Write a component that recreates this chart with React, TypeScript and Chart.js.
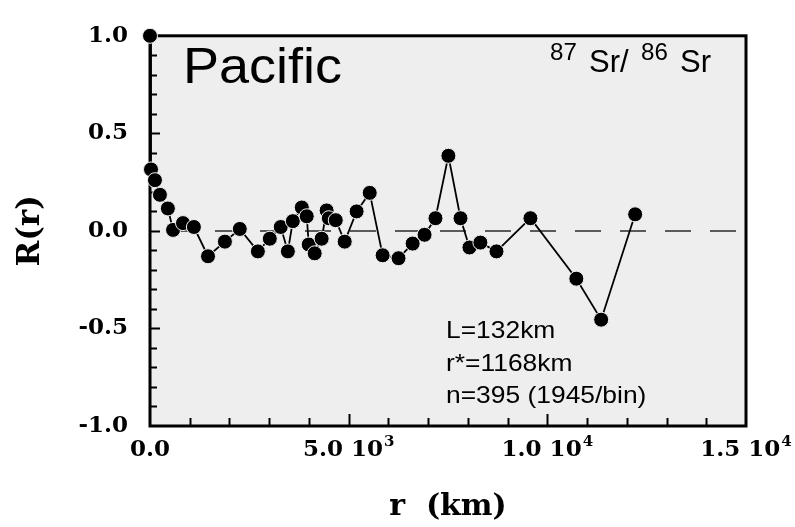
import React, { useEffect, useRef } from "react";
import { Chart, registerables } from "chart.js";

Chart.register(...registerables);

// Distance r (km) of each bin
const distanceKm = [
  0, 25, 125, 250, 450, 580, 830, 1105, 1460, 1885,
  2260, 2715, 3015, 3290, 3470, 3595, 3820, 3945, 3995, 4145,
  4320, 4445, 4500, 4675, 4900, 5200, 5530, 5855, 6255, 6610,
  6910, 7185, 7510, 7815, 8040, 8315, 8720, 9575, 10730, 11355,
  12210,
];
// Correlation R(r)
const correlation = [
  1.0, 0.315, 0.26, 0.185, 0.115, 0.005, 0.04, 0.02, -0.13, -0.055,
  0.01, -0.105, -0.04, 0.02, -0.105, 0.05, 0.12, 0.075, -0.07, -0.115,
  -0.04, 0.105, 0.065, 0.055, -0.055, 0.1, 0.195, -0.125, -0.14, -0.065,
  -0.02, 0.065, 0.385, 0.065, -0.085, -0.06, -0.105, 0.065, -0.245, -0.455,
  0.085,
];

const xTickValues = [0, 5000, 10000, 15000];
const xTickMantissa = ["0.0", "5.0 10", "1.0 10", "1.5 10"];
const xTickExponent = ["", "3", "4", "4"];
const yTickValues = [-1, -0.5, 0, 0.5, 1];
const yTickLabels = ["-1.0", "-0.5", "0.0", "0.5", "1.0"];

const regionLabel = "Pacific";
const isotopeParts = ["87", "Sr/", "86", "Sr"];
const statLines = ["L=132km", "r*=1168km", "n=395 (1945/bin)"];

const xTitle = "r  (km)";
const yTitle = "R(r)";

const SERIF_BOLD = "bold 23px 'DejaVu Serif'";
const SERIF_BOLD_SUP = "bold 15px 'DejaVu Serif'";

function drawScaledText(ctx: CanvasRenderingContext2D, text: string, x: number, y: number, font: string, hscale: number) {
  ctx.save();
  ctx.font = font;
  ctx.translate(x, y);
  ctx.scale(hscale, 1);
  ctx.textAlign = "left";
  ctx.textBaseline = "alphabetic";
  ctx.fillStyle = "#000";
  ctx.fillText(text, 0, 0);
  ctx.restore();
}

const framePlugin = {
  id: "frame",
  beforeDraw(chart: any) {
    const { ctx, chartArea: a } = chart;
    ctx.save();
    ctx.fillStyle = "#eeeeee";
    ctx.fillRect(a.left, a.top, a.right - a.left, a.bottom - a.top);
    ctx.restore();
  },
  beforeDatasetsDraw(chart: any) {
    const { ctx, chartArea: a, scales } = chart;
    const xs = scales.x;
    const ys = scales.y;
    ctx.save();
    // dashed zero line
    const y0 = ys.getPixelForValue(0);
    ctx.strokeStyle = "#5a5a5a";
    ctx.lineWidth = 2;
    ctx.setLineDash([26, 19]);
    ctx.lineDashOffset = -20;
    ctx.beginPath();
    ctx.moveTo(a.left, y0);
    ctx.lineTo(a.right - 6, y0);
    ctx.stroke();
    ctx.setLineDash([]);

    // frame
    ctx.strokeStyle = "#000";
    ctx.lineWidth = 3;
    ctx.strokeRect(a.left, a.top, a.right - a.left, a.bottom - a.top);

    // tick marks
    ctx.lineWidth = 2;
    ctx.beginPath();
    for (let v = 1000; v < 15000; v += 1000) {
      const px = Math.round(xs.getPixelForValue(v)) + 0.5;
      const len = v % 5000 === 0 ? 12 : 8;
      ctx.moveTo(px, a.bottom);
      ctx.lineTo(px, a.bottom - len);
    }
    for (let i = -9; i <= 9; i++) {
      const v = i / 10;
      const py = Math.round(ys.getPixelForValue(v)) + 0.5;
      const len = i % 5 === 0 ? 10 : 7;
      ctx.moveTo(a.left, py);
      ctx.lineTo(a.left + len, py);
    }
    ctx.stroke();

    // x tick labels with superscript exponent
    ctx.fillStyle = "#000";
    ctx.textBaseline = "alphabetic";
    ctx.textAlign = "left";
    const baseY = a.bottom + 30;
    xTickValues.forEach((v, i) => {
      ctx.font = SERIF_BOLD;
      const mant = xTickMantissa[i];
      const wM = ctx.measureText(mant).width;
      ctx.font = SERIF_BOLD_SUP;
      const exp = xTickExponent[i];
      const wE = exp ? ctx.measureText(exp).width + 1 : 0;
      const cx = xs.getPixelForValue(v);
      const x0 = cx - (wM + wE) / 2;
      ctx.font = SERIF_BOLD;
      ctx.fillText(mant, x0, baseY);
      if (exp) {
        ctx.font = SERIF_BOLD_SUP;
        ctx.fillText(exp, x0 + wM + 1, baseY - 10);
      }
    });

    // annotation texts
    drawScaledText(ctx, regionLabel, 183, 83, "50px 'Liberation Sans'", 1.08);
    drawScaledText(ctx, isotopeParts[0], 550, 60, "23px 'Liberation Sans'", 1.05);
    drawScaledText(ctx, isotopeParts[1], 589, 72, "31px 'Liberation Sans'", 1.0);
    drawScaledText(ctx, isotopeParts[2], 641, 60, "23px 'Liberation Sans'", 1.05);
    drawScaledText(ctx, isotopeParts[3], 680, 72, "31px 'Liberation Sans'", 1.0);
    drawScaledText(ctx, statLines[0], 446, 338, "24px 'Liberation Sans'", 1.1);
    drawScaledText(ctx, statLines[1], 446, 371, "24px 'Liberation Sans'", 1.1);
    drawScaledText(ctx, statLines[2], 446, 403, "24px 'Liberation Sans'", 1.1);
    ctx.restore();
  },
};

export default function App() {
  const canvasRef = useRef<HTMLCanvasElement | null>(null);

  useEffect(() => {
    const canvas = canvasRef.current;
    if (!canvas) return;
    const points = distanceKm.map((r, i) => ({ x: r, y: correlation[i] }));
    const chart = new Chart(canvas, {
      type: "scatter",
      data: {
        datasets: [
          {
            data: points,
            showLine: true,
            borderColor: "#000",
            borderWidth: 1.8,
            backgroundColor: "#000",
            pointBackgroundColor: "#000",
            pointBorderColor: "#f2f2f2",
            pointBorderWidth: 1,
            pointRadius: 7.5,
            clip: false as any,
          },
        ],
      },
      options: {
        animation: false,
        responsive: false,
        devicePixelRatio: 1,
        layout: { padding: { left: 0, top: 26, right: 49, bottom: 0 } },
        plugins: { legend: { display: false }, tooltip: { enabled: false } },
        scales: {
          x: {
            type: "linear",
            min: 0,
            max: 15000,
            afterBuildTicks: (s: any) => {
              s.ticks = xTickValues.map((v) => ({ value: v }));
            },
            ticks: { display: false },
            grid: { display: false, drawTicks: false },
            border: { display: false },
            title: {
              display: true,
              text: xTitle,
              color: "#000",
              font: { family: "'DejaVu Serif'", weight: "bold", size: 30 },
              padding: { top: 0, bottom: 2 },
            },
            afterFit: (s: any) => {
              s.height = 101;
            },
          },
          y: {
            type: "linear",
            min: -1,
            max: 1,
            afterBuildTicks: (s: any) => {
              s.ticks = yTickValues.map((v) => ({ value: v }));
            },
            ticks: {
              callback: (v: any) => {
                const i = yTickValues.indexOf(Number(v));
                return i >= 0 ? yTickLabels[i] : "";
              },
              font: { family: "'DejaVu Serif'", weight: "bold", size: 23 },
              color: "#000",
              padding: 22,
              autoSkip: false,
            },
            grid: { display: false, drawTicks: false },
            border: { display: false },
            title: {
              display: true,
              text: yTitle,
              color: "#000",
              font: { family: "'DejaVu Serif'", weight: "bold", size: 31 },
              padding: { top: 12, bottom: 0 },
            },
            afterFit: (s: any) => {
              s.width = 150;
            },
          },
        },
      },
      plugins: [framePlugin],
    });
    return () => chart.destroy();
  }, []);

  return (
    <div style={{ position: "absolute", left: 0, top: 0, width: 795, height: 527, background: "#fff" }}>
      <canvas ref={canvasRef} width={795} height={527} style={{ display: "block" }} />
    </div>
  );
}
